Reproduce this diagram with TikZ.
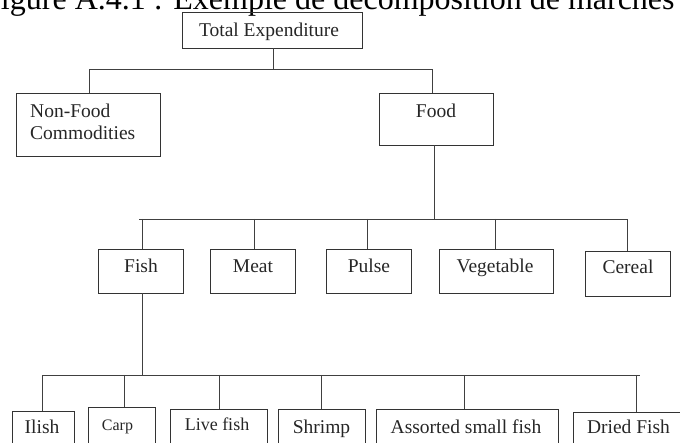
\documentclass[tikz,border=0pt]{standalone}
\usepackage{fontspec}
\setmainfont{Liberation Serif}
\begin{document}
\begin{tikzpicture}[x=1pt,y=-1pt,
  box/.style={draw=black!80, line width=0.9pt, inner sep=0pt},
  lbl/.style={inner sep=0pt, anchor=base, font=\fontsize{19.5}{23}\selectfont, text=black!85},
  con/.style={draw=black!75, line width=0.9pt}]
\useasboundingbox (0,0) rectangle (680,443);
\clip (0,0) rectangle (680,443);
\node[inner sep=0pt, anchor=base west, font=\fontsize{32}{38}\selectfont] (cap) at (-17,10) {Figure A.4.1 : Exemple de décomposition de marchés};
% level 0
\node[box, minimum width=180pt, minimum height=36pt] (tot) at (272,30) {};
\node[lbl] (tott) at (269,37) {Total Expenditure};
% level 1
\node[box, minimum width=144pt, minimum height=63pt] (nonfood) at (88,124.5) {};
\node[lbl, anchor=base west] (nft1) at (30,118) {Non-Food};
\node[lbl, anchor=base west] (nft2) at (30,140) {Commodities};
\node[box, minimum width=114pt, minimum height=52pt] (food) at (436,119) {};
\node[lbl] (foodt) at (436,118) {Food};
% level 2
\node[box, minimum width=85pt, minimum height=44pt] (fish) at (140.5,271) {};
\node[lbl] (fisht) at (141,273) {Fish};
\node[box, minimum width=85pt, minimum height=44pt] (meat) at (252.5,271) {};
\node[lbl] (meatt) at (253,273) {Meat};
\node[box, minimum width=85pt, minimum height=44pt] (pulse) at (368.5,271) {};
\node[lbl] (pulset) at (369,273) {Pulse};
\node[box, minimum width=114pt, minimum height=44pt] (veg) at (496,271) {};
\node[lbl] (vegt) at (495,273) {Vegetable};
\node[box, minimum width=85pt, minimum height=45pt] (cereal) at (627.5,273.5) {};
\node[lbl] (cerealt) at (628,274) {Cereal};
% level 3
\node[box, minimum width=62pt, minimum height=44pt] (ilish) at (43,433) {};
\node[lbl] (ilisht) at (42,433) {Ilish};
\node[box, minimum width=67pt, minimum height=44pt] (carp) at (121.5,429) {};
\node[lbl, font=\fontsize{16}{19}\selectfont] (carpt) at (117.5,431) {Carp};
\node[box, minimum width=97pt, minimum height=44pt] (live) at (218.5,431) {};
\node[lbl, font=\fontsize{18}{21}\selectfont] (livet) at (217,430) {Live fish};
\node[box, minimum width=87pt, minimum height=44pt] (shrimp) at (321.5,431) {};
\node[lbl] (shrimpt) at (321.5,433) {Shrimp};
\node[box, minimum width=182pt, minimum height=44pt] (assorted) at (467,431) {};
\node[lbl] (assortedt) at (466,433) {Assorted small fish};
\node[box, minimum width=109pt, minimum height=44pt] (dried) at (627.5,434) {};
\node[lbl] (driedt) at (628.5,433) {Dried Fish};
% connectors level 0 -> 1
\coordinate (b1) at (273,69);
\coordinate (b1l) at (89,69);
\coordinate (b1r) at (432,69);
\draw[con] (b1 |- tot.south) -- (b1);
\draw[con] (b1l |- nonfood.north) -- (b1l) -- (b1r) -- (b1r |- food.north);
% level 1 -> 2
\coordinate (b2l) at (139,219);
\coordinate (b2r) at (627,219);
\draw[con] ([xshift=-2pt]food.south) -- ([xshift=-2pt]food.south |- b2l);
\draw[con] (b2l) -- (b2r) -- (b2r |- cereal.north);
\draw[con] ([xshift=1.5pt]fish.north |- b2l) -- ([xshift=1.5pt]fish.north);
\draw[con] ([xshift=1.5pt]meat.north |- b2l) -- ([xshift=1.5pt]meat.north);
\draw[con] ([xshift=-1.5pt]pulse.north |- b2l) -- ([xshift=-1.5pt]pulse.north);
\draw[con] ([xshift=-1pt]veg.north |- b2l) -- ([xshift=-1pt]veg.north);
% level 2 -> 3
\coordinate (b3l) at (42,375);
\coordinate (b3r) at (640,375);
\draw[con] ([xshift=1.5pt]fish.south) -- ([xshift=1.5pt]fish.south |- b3l);
\draw[con] (b3l |- ilish.north) -- (b3l) -- (b3r);
\draw[con] ([xshift=2.5pt]carp.north |- b3l) -- ([xshift=2.5pt]carp.north);
\draw[con] ([xshift=0.5pt]live.north |- b3l) -- ([xshift=0.5pt]live.north);
\draw[con] ([xshift=-0.5pt]shrimp.north |- b3l) -- ([xshift=-0.5pt]shrimp.north);
\draw[con] ([xshift=-3pt]assorted.north |- b3l) -- ([xshift=-3pt]assorted.north);
\draw[con] ([xshift=8.5pt]dried.north |- b3l) -- ([xshift=8.5pt]dried.north);
\end{tikzpicture}
\end{document}
